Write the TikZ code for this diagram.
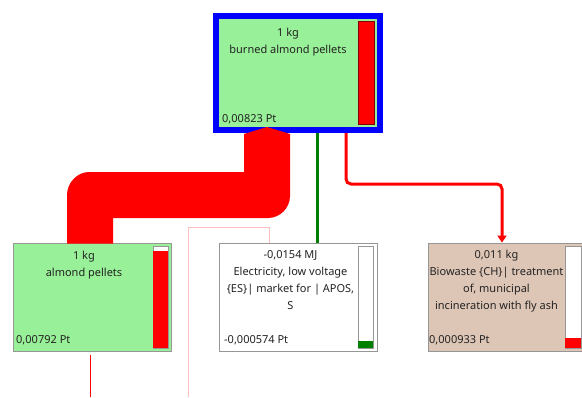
\documentclass[tikz,border=0pt]{standalone}
\usepackage{fontspec}
\setmainfont{Noto Sans}
\usetikzlibrary{arrows.meta}

\definecolor{procgreen}{RGB}{152,240,152}
\definecolor{biotan}{RGB}{222,198,182}
\definecolor{flowred}{RGB}{255,0,0}
\definecolor{flowblue}{RGB}{0,0,255}
\definecolor{linkgreen}{RGB}{0,128,0}
\definecolor{linkpink}{RGB}{255,190,190}
\definecolor{boxgray}{RGB}{150,150,150}
\definecolor{textgray}{RGB}{35,35,35}

\tikzset{
    proc/.style={draw=boxgray, line width=0.8pt, minimum width=158pt, minimum height=108pt, inner sep=0pt},
    lbl/.style={align=center, font=\fontsize{11}{17}\selectfont, text=textgray, anchor=north, inner sep=0pt},
    score/.style={font=\fontsize{11}{13}\selectfont, text=textgray, anchor=base west, inner sep=0pt},
    bar/.style={draw=boxgray, line width=0.6pt}
}

\begin{document}
\begin{tikzpicture}[x=1pt,y=-1pt]
        \clip (0,0) rectangle (582,397);
        % process boxes
        \node[proc, fill=procgreen, draw=flowblue, line width=6pt, minimum width=164pt, minimum height=114pt] (burned) at (298,73) {};
        \node[proc, fill=procgreen] (pellets) at (92,297) {};
        \node[proc, fill=white] (elec) at (298.5,297) {};
        \node[proc, fill=biotan] (bio) at (507,297) {};
        % score bars
        \draw[bar, draw=red!50!black, fill=flowred] (358,21) rectangle (374,124);
        \draw[bar, fill=white] (153,246) rectangle (168,348);
        \fill[flowred] (153.3,251) rectangle (167.7,347.7);
        \draw[bar, fill=white] (358,246) rectangle (373,348);
        \fill[linkgreen] (358.3,341) rectangle (372.7,347.7);
        \draw[bar, fill=white] (565,246) rectangle (581,348);
        \fill[flowred] (565.3,338) rectangle (580.7,347.7);
        % labels
        \node[lbl] (burnedlbl) at (288,28) {1 kg\\burned almond pellets};
        \node[score] (burnedpt) at (222,122) {0,00823 Pt};
        \node[lbl] (pelletslbl) at (84,251) {1 kg\\almond pellets};
        \node[score] (pelletspt) at (16,343) {0,00792 Pt};
        \node[lbl] (eleclbl) at (290.5,250) {-0,0154 MJ\\Electricity, low voltage\\\{ES\}| market for | APOS,\\S};
        \node[score] (elecpt) at (224,343) {-0,000574 Pt};
        \node[lbl] (biolbl) at (496.5,250) {0,011 kg\\Biowaste \{CH\}| treatment\\of, municipal\\incineration with fly ash};
        \node[score] (biopt) at (429,343) {0,000933 Pt};
        % flows
        \fill[flowred] (244,134) -- (267,127) -- (290,134) -- (290,196)
            .. controls (290,208) and (280,218) .. (268,218) -- (113,218) -- (113,243.5)
            -- (67,243.5) -- (67,195) .. controls (67,183) and (77,172) .. (89,172) -- (244,172) -- cycle;
        \draw[linkgreen, line width=3pt] ([xshift=19pt]burned.south) -- ([xshift=19pt]burned.south |- elec.north);
        \draw[flowred, line width=3pt, rounded corners=5pt, -{Triangle[width=9pt,length=7pt]}]
            ([xshift=48pt]burned.south) -- ++(0,51) -| ([xshift=-5pt]bio.north);
        \coordinate (elecin) at (188,397);
        \draw[linkpink, line width=1pt] (elecin) |- ([xshift=-29.5pt,yshift=15pt]elec.north) -- ([xshift=-29.5pt]elec.north);
        \coordinate (pelletsin) at (90,397);
        \draw[flowred, line width=0.8pt] (pelletsin) -- (90,355);
    \end{tikzpicture}
\end{document}
